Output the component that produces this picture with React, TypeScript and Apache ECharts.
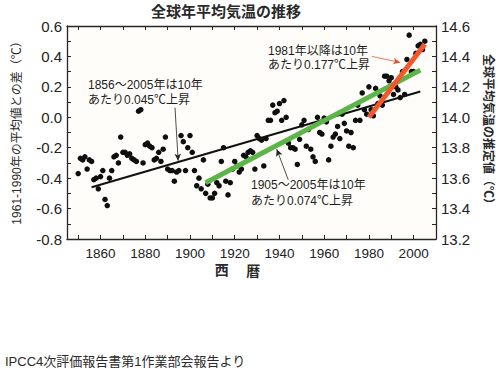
import React, { useEffect, useRef } from "react";
import * as echarts from "echarts";

const startYear = 1850;
const anomalies: number[] = [
  -0.37, -0.27, -0.28, -0.26, -0.34, -0.28, -0.29, -0.41, -0.40, -0.47,
  -0.39, -0.35, -0.54, -0.58, -0.40, -0.35, -0.26, -0.25, -0.30, -0.13,
  -0.23, -0.23, -0.25, -0.24, -0.27, -0.28, -0.29, 0.04, 0.05, -0.30,
  -0.18, -0.17, -0.19, -0.20, -0.28, -0.27, -0.23, -0.29, -0.21, -0.13,
  -0.34, -0.35, -0.35, -0.42, -0.36, -0.35, -0.12, -0.16, -0.35, -0.20,
  -0.12, -0.23, -0.35, -0.45, -0.40, -0.47, -0.28, -0.50, -0.44, -0.53,
  -0.53, -0.50, -0.43, -0.45, -0.29, -0.20, -0.42, -0.51, -0.43, -0.34,
  -0.29, -0.32, -0.36, -0.34, -0.25, -0.26, -0.23, -0.22, -0.23, -0.34,
  -0.12, -0.14, -0.15, -0.32, -0.14, -0.02, -0.02, 0.08, 0.03, 0.04,
  0.09, -0.02, 0.11, 0.0, -0.17, -0.2, -0.2, -0.21, -0.31, -0.145,
  -0.05, -0.02, -0.19, -0.08, -0.21, -0.26, -0.29, 0.0, -0.10, -0.11,
  -0.005, -0.03, -0.28, -0.19, -0.13, -0.11, -0.06, -0.14, 0.02, -0.04,
  -0.09, -0.19, -0.10, -0.20, -0.02, 0.08, -0.02, 0.16, 0.05, 0.02,
  0.20, 0.05, 0.01, 0.19, 0.09, 0.14, 0.08, 0.27, 0.27, 0.24,
  0.26, 0.15, 0.20, 0.18, 0.13, 0.30, 0.15, 0.38, 0.54, 0.30,
  0.30, 0.42, 0.47, 0.48, 0.445, 0.50,
];

const trend1856: [number, number][] = [[1856, -0.46], [2003, 0.17]];
const trend1905: [number, number][] = [[1907, -0.43], [2003, 0.31]];
const trend1981: [number, number][] = [[1980, 0.0], [2005, 0.48]];

const arrow1856: [number, number][] = [[1893.3, 0.063], [1894.7, -0.285]];
const arrow1905: [number, number][] = [[1943.9, -0.41], [1938.8, -0.21]];
const arrow1981: [number, number][] = [[1981.3, 0.40], [1994.0, 0.36]];

const xTickValues = [1850, 1860, 1870, 1880, 1890, 1900, 1910, 1920, 1930, 1940, 1950, 1960, 1970, 1980, 1990, 2000, 2010];
const xLabelValues = [1860, 1880, 1900, 1920, 1940, 1960, 1980, 2000];

const FONT = '"Liberation Sans", Arial, "Noto Sans CJK JP", sans-serif';

export default function App() {
  const ref = useRef<HTMLDivElement>(null);
  useEffect(() => {
    if (!ref.current) return;
    const chart = echarts.init(ref.current, null, { renderer: "svg" });
    const points = anomalies.map((v, i) => [startYear + i, v]);
    const axisColor = "#2a2424";
    const labelColor = "#222";
    const txt = (text: string, x: number, y: number, size: number, extra: any = {}) => ({
      type: "text",
      x,
      y,
      silent: true,
      ...extra,
      style: {
        text,
        fill: extra.fill || "#1e1e1e",
        font: `${extra.weight || "normal"} ${size}px ${FONT}`,
        align: extra.align || "left",
        verticalAlign: "middle",
      },
    });
    const option: any = {
      animation: false,
      backgroundColor: "#ffffff",
      textStyle: { fontFamily: FONT },
      grid: {
        left: 67,
        right: 64,
        top: 26,
        bottom: 130,
        show: true,
        backgroundColor: "#fffdf9",
        borderWidth: 0,
      },
      xAxis: [
        {
          type: "value",
          min: 1845,
          max: 2010,
          position: "bottom",
          axisLine: { show: true, onZero: false, lineStyle: { color: axisColor, width: 1.3 } },
          axisTick: { show: true, inside: true, length: 4, customValues: xTickValues, lineStyle: { color: axisColor } },
          axisLabel: {
            customValues: xLabelValues,
            color: labelColor,
            fontSize: 13.5,
            margin: 8,
            fontFamily: FONT,
            formatter: (v: number) => String(v),
          },
          splitLine: { show: false },
        },
        {
          type: "value",
          min: 1845,
          max: 2010,
          position: "top",
          axisLine: { show: true, onZero: false, lineStyle: { color: axisColor, width: 1.3 } },
          axisTick: { show: true, inside: true, length: 4, customValues: xTickValues, lineStyle: { color: axisColor } },
          axisLabel: { show: false },
          splitLine: { show: false },
        },
      ],
      yAxis: [
        {
          type: "value",
          min: -0.8,
          max: 0.6,
          interval: 0.2,
          position: "left",
          axisLine: { show: true, onZero: false, lineStyle: { color: axisColor, width: 1.3 } },
          axisTick: { show: true, inside: true, length: 4, lineStyle: { color: axisColor } },
          minorTick: { show: true, splitNumber: 2, length: 4, lineStyle: { color: axisColor } },
          axisLabel: { color: labelColor, fontSize: 15, margin: 5, formatter: (v: number) => v.toFixed(1) },
          splitLine: { show: false },
        },
        {
          type: "value",
          min: 13.2,
          max: 14.6,
          interval: 0.2,
          position: "right",
          axisLine: { show: true, onZero: false, lineStyle: { color: axisColor, width: 1.3 } },
          axisTick: { show: true, inside: true, length: 4, lineStyle: { color: axisColor } },
          minorTick: { show: true, splitNumber: 2, length: 4, lineStyle: { color: axisColor } },
          axisLabel: { color: labelColor, fontSize: 15, margin: 5, formatter: (v: number) => v.toFixed(1) },
          splitLine: { show: false },
        },
      ],
      series: [
        {
          type: "scatter",
          data: points,
          symbolSize: 5.5,
          itemStyle: { color: "#0e0e0e", opacity: 1 },
          z: 2,
          markLine: {
            silent: true,
            symbol: ["none", "arrow"],
            symbolSize: [5, 7],
            label: { show: false },
            data: [
              [
                { coord: arrow1856[0], lineStyle: { color: "#222", width: 0.8, type: "solid" } },
                { coord: arrow1856[1] },
              ],
              [
                { coord: arrow1905[0], lineStyle: { color: "#222", width: 0.8, type: "solid" } },
                { coord: arrow1905[1] },
              ],
              [
                { coord: arrow1981[0], lineStyle: { color: "#e0553a", width: 0.8, type: "solid" } },
                { coord: arrow1981[1] },
              ],
            ],
          },
        },
        {
          type: "line",
          data: trend1856,
          showSymbol: false,
          lineStyle: { color: "#111", width: 2 },
          z: 3,
        },
        {
          type: "line",
          data: trend1905,
          showSymbol: false,
          lineStyle: { color: "#5cb548", width: 5 },
          z: 4,
        },
        {
          type: "line",
          data: trend1981,
          showSymbol: false,
          lineStyle: { color: "#f2582c", width: 5 },
          z: 5,
        },
      ],
      graphic: [
        txt("全球年平均気温の推移", 226, 11, 15, { weight: "bold", align: "center", fill: "#2a2a2a" }),
        txt("1961-1990年の平均値との差（℃）", 17, 130, 12, { rotation: Math.PI / 2, align: "center", fill: "#2a2a2a" }),
        txt("全球平均気温の推定値（℃）", 488, 132, 12, { rotation: -Math.PI / 2, align: "center", weight: "bold", fill: "#2a2a2a" }),
        txt("西", 221.7, 270, 14, { weight: "bold", align: "center", fill: "#2a2a2a" }),
        txt("暦", 253.3, 271, 14, { weight: "bold", align: "center", fill: "#2a2a2a" }),
        txt("1856～2005年は10年", 88, 85, 12),
        txt("あたり0.045℃上昇", 88, 100, 12),
        txt("1981年以降は10年", 268, 51, 12),
        txt("あたり0.177℃上昇", 268, 65, 12),
        txt("1905～2005年は10年", 251, 185, 12),
        txt("あたり0.074℃上昇", 251, 201, 12),
        txt("IPCC4次評価報告書第1作業部会報告より", 5, 361, 13, { fill: "#2a2a2a" }),
      ],
    };
    chart.setOption(option);
    return () => chart.dispose();
  }, []);
  return (
    <div
      ref={ref}
      style={{ position: "fixed", left: 0, top: 0, width: 500, height: 369 }}
    />
  );
}
